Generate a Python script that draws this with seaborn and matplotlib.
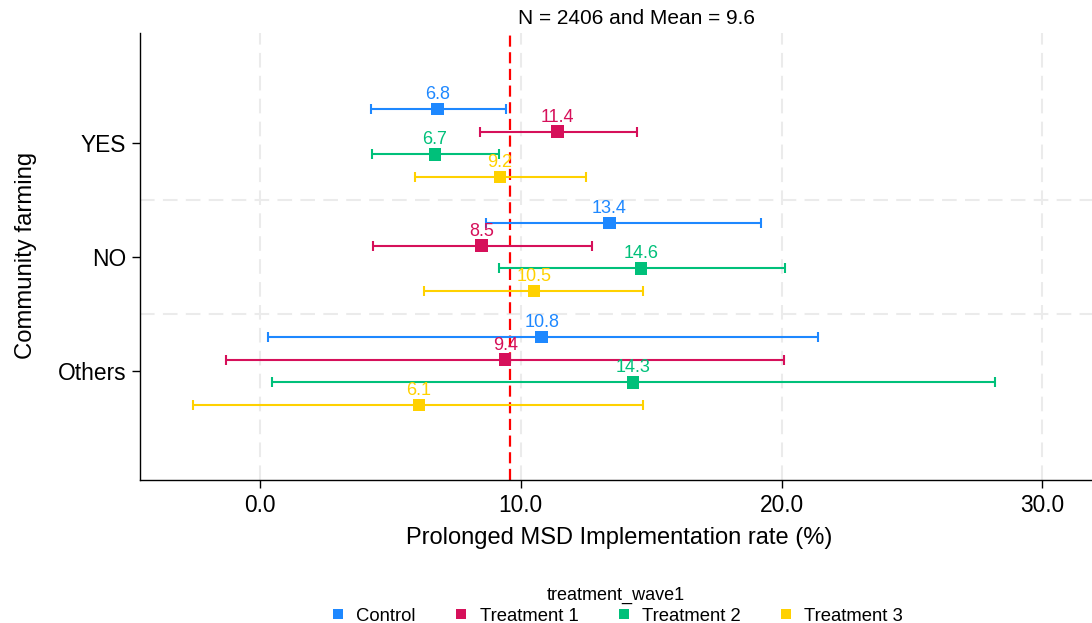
import matplotlib
matplotlib.use("Agg")
import matplotlib.pyplot as plt
import seaborn as sns
import pandas as pd
import numpy as np

# data
categories = ["YES", "NO", "Others"]
groups = ["Control", "Treatment 1", "Treatment 2", "Treatment 3"]
means = {
    "YES":    [6.8, 11.4, 6.7, 9.2],
    "NO":     [13.4, 8.5, 14.6, 10.5],
    "Others": [10.8, 9.4, 14.3, 6.1],
}
ci_low = {
    "YES":    [4.25, 8.45, 4.3, 5.95],
    "NO":     [8.65, 4.35, 9.15, 6.3],
    "Others": [0.3, -1.3, 0.47, -2.55],
}
ci_high = {
    "YES":    [9.45, 14.45, 9.15, 12.5],
    "NO":     [19.2, 12.73, 20.14, 14.7],
    "Others": [21.4, 20.1, 28.2, 14.7],
}
overall_mean = 9.6
n_obs = 2406
colors = ["#1E88FF", "#D6105A", "#00C07A", "#FFD100"]

rows = []
for ci, cat in enumerate(categories):
    for gi, g in enumerate(groups):
        rows.append(dict(cat=cat, group=g, rate=means[cat][gi],
                         lo=ci_low[cat][gi], hi=ci_high[cat][gi],
                         ypos=ci + (gi - 1.5) * 0.2))
df = pd.DataFrame(rows)

sns.set_style("white")
plt.rcParams["font.family"] = ["Liberation Sans", "DejaVu Sans"]
plt.rcParams["text.color"] = "black"
plt.rcParams["axes.labelcolor"] = "black"
plt.rcParams["xtick.color"] = "black"
plt.rcParams["ytick.color"] = "black"

fig = plt.figure(figsize=(10.92, 6.23), dpi=100)
ax = fig.add_axes([140 / 1092, 1 - 480 / 623, 952 / 1092, 447 / 623])

pal = dict(zip(groups, colors))
for g in groups:
    d = df[df.group == g]
    ax.errorbar(d.rate, d.ypos, xerr=[d.rate - d.lo, d.hi - d.rate], fmt="none",
                ecolor=pal[g], elinewidth=1.5, capsize=3.5, capthick=1.5, zorder=3)

sns.scatterplot(data=df, x="rate", y="ypos", hue="group", palette=pal,
                marker="s", s=80, linewidth=0, ax=ax, zorder=4)

for _, r in df.iterrows():
    ax.annotate(f"{r.rate:.1f}", (r.rate, r.ypos), xytext=(0, 10.5),
                textcoords="offset points", ha="center", va="center",
                fontsize=13, color=pal[r.group], zorder=5)

ax.axvline(overall_mean, color="red", lw=1.6, ls=(0, (5, 2.5)), zorder=2)

ax.set_xlim(-4.6, 31.9)
ax.set_ylim(2.956, -0.965)
ax.set_xticks([0, 10, 20, 30])
ax.set_xticklabels([f"{v:.1f}" for v in [0, 10, 20, 30]])
ax.set_yticks(range(len(categories)))
ax.set_yticklabels(categories)
ax.set_yticks([0.5, 1.5], minor=True)
ax.grid(True, axis="x", which="major", color="#EBEBEB", lw=1.5, ls=(0, (7, 4)))
ax.grid(True, axis="y", which="minor", color="#EBEBEB", lw=1.5, ls=(0, (7, 4)))
ax.grid(False, axis="y", which="major")
ax.tick_params(axis="both", which="major", direction="out", length=6, width=1,
               color="black", labelcolor="black", labelsize=16.4, pad=4,
               left=True, bottom=True)
ax.tick_params(axis="y", which="minor", length=0)

for side in ["top", "right"]:
    ax.spines[side].set_visible(False)
for side in ["left", "bottom"]:
    ax.spines[side].set_color("black")
    ax.spines[side].set_linewidth(1)

ax.set_xlabel("Prolonged MSD Implementation rate (%)", fontsize=17, color="black")
ax.set_ylabel("Community farming", fontsize=17.2, color="black")
ax.xaxis.set_label_coords(0.503, -0.105)
ax.yaxis.set_label_coords(-0.108, 0.503)

fig.text(637 / 1092, 1 - 19 / 623, f"N = {n_obs} and Mean = {overall_mean}",
         ha="center", va="center", fontsize=15, color="black")

sns.move_legend(ax, "lower center", bbox_to_anchor=(616 / 1092, -0.012),
                bbox_transform=fig.transFigure, ncol=4, frameon=False,
                title="treatment_wave1", fontsize=13.3, title_fontsize=13,
                markerscale=0.8, handlelength=1.0, handletextpad=0.5,
                columnspacing=1.95, borderaxespad=0.1, borderpad=0.2,
                labelspacing=0.2)
leg = ax.get_legend()
for t in leg.get_texts():
    t.set_color("black")
leg.get_title().set_color("black")

fig.savefig("out.png", dpi=100)
